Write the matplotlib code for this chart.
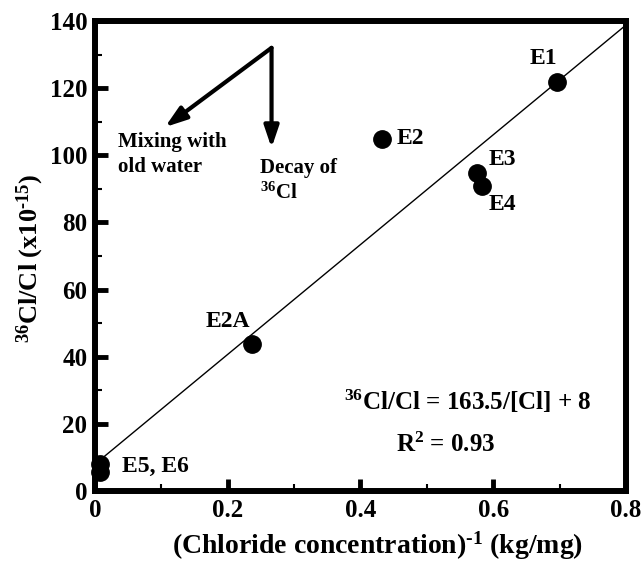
import matplotlib
matplotlib.use("Agg")
import matplotlib.pyplot as plt
import numpy as np

plt.rcParams['font.family'] = ['Liberation Serif', 'DejaVu Serif']
plt.rcParams['font.weight'] = 'bold'
plt.rcParams['mathtext.fontset'] = 'custom'
plt.rcParams['mathtext.rm'] = 'Liberation Serif:bold'
plt.rcParams['mathtext.bf'] = 'Liberation Serif:bold'
plt.rcParams['mathtext.it'] = 'Liberation Serif:bold:italic'
plt.rcParams['mathtext.default'] = 'rm'

# data
labels = ['E1', 'E2', 'E3', 'E4', 'E2A', 'E5', 'E6']
x_vals = [0.696, 0.432, 0.575, 0.583, 0.237, 0.008, 0.008]
y_vals = [121.8, 104.9, 94.8, 90.8, 43.8, 8.0, 5.6]
slope = 163.5
intercept = 8.0
fit_x = [0.0, 0.8]
x_ticks = [0, 0.2, 0.4, 0.6, 0.8]
x_tick_labels = ['0', '0.2', '0.4', '0.6', '0.8']
y_ticks = [0, 20, 40, 60, 80, 100, 120, 140]

fig = plt.figure(figsize=(6.44, 5.64), dpi=100)
ax = fig.add_axes([0.1475, 0.1294, 0.8245, 0.8334])

fx = np.array(fit_x)
ax.plot(fx, slope * fx + intercept, color='black', lw=1.0, zorder=2)
ax.plot(x_vals, y_vals, 'o', color='black', ms=12.5, zorder=3, clip_on=False)

ax.set_xlim(0, 0.8)
ax.set_ylim(0, 140)
ax.set_xticks(x_ticks)
ax.set_xticklabels(x_tick_labels)
ax.set_yticks(y_ticks)
ax.set_xticks(np.arange(0.1, 0.8, 0.2), minor=True)
ax.set_yticks(np.arange(10, 140, 20), minor=True)

for s in ax.spines.values():
    s.set_linewidth(4.3)
ax.tick_params(which='major', direction='in', length=9, width=3.5, labelsize=18, pad=5.5)
ax.tick_params(which='minor', direction='in', length=5, width=1.5)
ax.tick_params(top=False, right=False, which='both')
for lab in ax.get_xticklabels() + ax.get_yticklabels():
    lab.set_fontweight('bold')

hy = '\u2010'
fig.text(378 / 644, 1 - 554 / 564, '(Chloride concentration)$^{' + hy + '1}$ (kg/mg)',
         fontsize=20, fontweight='bold', ha='center', va='baseline')
fig.text(37 / 644, 1 - 258 / 564, '$^{36}$Cl/Cl (x10$^{' + hy + '15}$)', fontsize=19,
         fontweight='bold', ha='center', va='baseline', rotation=90, rotation_mode='anchor')

fs = 17
ax.text(0.675, 128.7, 'E1', fontsize=fs, ha='center', va='center')
ax.text(0.455, 104.9, 'E2', fontsize=fs, ha='left', va='center')
ax.text(0.593, 98.6, 'E3', fontsize=fs, ha='left', va='center')
ax.text(0.593, 85.2, 'E4', fontsize=fs, ha='left', va='center')
ax.text(0.200, 50.6, 'E2A', fontsize=fs, ha='center', va='center')
ax.text(0.0407, 7.2, 'E5, E6', fontsize=fs, ha='left', va='center')

ax.text(0.562, 26.8, '$^{36}$Cl/Cl = 163.5/[Cl] + 8', fontsize=18, ha='center', va='center')
ax.text(0.529, 13.8, 'R$^{2}$ = 0.93', fontsize=18, ha='center', va='center')

start = (0.266, 132)
astyle = dict(arrowstyle='-|>,head_length=0.65,head_width=0.22', color='black', lw=3,
              mutation_scale=20, shrinkA=0, shrinkB=0)
ax.annotate('', xy=(0.1055, 108.4), xytext=start, arrowprops=astyle)
ax.annotate('', xy=(0.266, 102.2), xytext=start, arrowprops=astyle)
ax.text(0.0347, 100.2, 'Mixing with\nold water', fontsize=15, ha='left', va='center', linespacing=1.3)
ax.text(0.248, 92.4, 'Decay of\n$^{36}$Cl', fontsize=15, ha='left', va='center', linespacing=1.3)

fig.savefig('out.png', dpi=100)
